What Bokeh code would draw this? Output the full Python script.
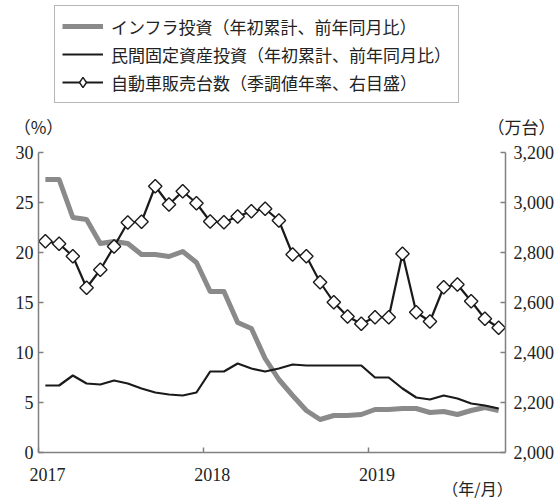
import numpy as np
from bokeh.plotting import figure
from bokeh.models import (LinearAxis, Range1d, FixedTicker, NumeralTickFormatter,
                          Legend, LegendItem, Label)
from bokeh.embed import file_html
from bokeh.resources import INLINE

# ---- data (monthly, 2017/1 - 2019/10) ----
months = [f"{y}/{m}" for y in (2017, 2018, 2019) for m in range(1, 13)][:34]

infra = [27.3, 27.3, 23.5, 23.3, 20.9, 21.1, 20.9, 19.8, 19.8, 19.6, 20.1, 19.0,
         16.1, 16.1, 13.0, 12.4, 9.4, 7.3, 5.7, 4.2, 3.3, 3.7, 3.7, 3.8,
         4.3, 4.3, 4.4, 4.4, 4.0, 4.1, 3.8, 4.2, 4.5, 4.2]

private = [6.7, 6.7, 7.7, 6.9, 6.8, 7.2, 6.9, 6.4, 6.0, 5.8, 5.7, 6.0,
           8.1, 8.1, 8.9, 8.4, 8.1, 8.4, 8.8, 8.7, 8.7, 8.7, 8.7, 8.7,
           7.5, 7.5, 6.4, 5.5, 5.3, 5.7, 5.4, 4.9, 4.7, 4.4]

autos = [2845, 2835, 2785, 2659, 2731, 2824, 2920, 2923, 3065, 2992, 3045, 2997,
         2924, 2921, 2944, 2965, 2975, 2928, 2792, 2785, 2681, 2601, 2544, 2515,
         2541, 2541, 2795, 2561, 2524, 2661, 2672, 2605, 2535, 2499]

year_ticks = [0, 12, 24]
year_labels = ["2017", "2018", "2019"]
left_ticks = [0, 5, 10, 15, 20, 25, 30]
right_ticks = [2000, 2200, 2400, 2600, 2800, 3000, 3200]

series_names = ["インフラ投資（年初累計、前年同月比）",
                "民間固定資産投資（年初累計、前年同月比）",
                "自動車販売台数（季調値年率、右目盛）"]
unit_left = "（%）"
unit_right = "（万台）"
unit_x = "（年/月）"

# month i plotted at the middle of its month slot
x = [i + 0.5 for i in range(len(months))]

SERIF = "Liberation Serif"
CJK = "Noto Sans CJK JP"
AXIS_GRAY = "#808080"
TXT = "#222222"
GRAY_LINE = "#8a8a8a"
BLACK = "#1a1a1a"

W, H = 558, 500
# plot box (pixels) in which the axes are drawn
BX0, BX1, BY_TOP, BY_BOT = 38, 505, 152, 452
N_MONTHS, Y_MAX, R_MIN, R_MAX = 34, 30, 2000, 3200

# ranges chosen so the axes box sits at the pixel box above; the rest of the
# canvas is used for legend and unit labels
px_per_x = (BX1 - BX0) / N_MONTHS
px_per_y = (BY_BOT - BY_TOP) / Y_MAX
px_per_r = (BY_BOT - BY_TOP) / (R_MAX - R_MIN)
x_range = Range1d(-BX0 / px_per_x, N_MONTHS + (W - BX1) / px_per_x)
y_range = Range1d(-(H - BY_BOT) / px_per_y, Y_MAX + BY_TOP / px_per_y)
r_range = Range1d(R_MIN - (H - BY_BOT) / px_per_r, R_MAX + BY_TOP / px_per_r)

p = figure(width=W, height=H, x_range=x_range, y_range=y_range,
           output_backend="svg", toolbar_location=None,
           x_axis_location=None, y_axis_location=None,
           min_border_left=0, min_border_right=0, min_border_top=0,
           min_border_bottom=0)
p.extra_y_ranges = {"right": r_range}
p.grid.visible = False
p.outline_line_color = None


def style_axis(ax):
    ax.axis_line_color = AXIS_GRAY
    ax.axis_line_width = 1.5
    ax.major_tick_line_color = AXIS_GRAY
    ax.major_tick_line_width = 1.5
    ax.minor_tick_line_color = None
    ax.major_tick_in = 5
    ax.major_tick_out = 0
    ax.major_label_text_font = SERIF
    ax.major_label_text_font_size = "18px"
    ax.major_label_text_color = TXT


ax_l = LinearAxis(ticker=FixedTicker(ticks=left_ticks), fixed_location=0,
                  bounds=(0, Y_MAX))
style_axis(ax_l)
ax_l.major_label_standoff = 5
p.add_layout(ax_l, "left")

ax_r = LinearAxis(y_range_name="right", ticker=FixedTicker(ticks=right_ticks),
                  formatter=NumeralTickFormatter(format="0,0"),
                  fixed_location=N_MONTHS, bounds=(R_MIN, R_MAX))
style_axis(ax_r)
ax_r.major_label_standoff = 8
p.add_layout(ax_r, "right")

# bottom axis: labels (major) a little right of year starts, tick marks (minor) at year starts
lab_pos = [t + 0.65 for t in year_ticks]
ax_b = LinearAxis(ticker=FixedTicker(ticks=lab_pos, minor_ticks=year_ticks),
                  major_label_overrides={pos: lab for pos, lab in zip(lab_pos, year_labels)},
                  fixed_location=0, bounds=(0, N_MONTHS))
style_axis(ax_b)
ax_b.major_tick_line_color = None
ax_b.major_tick_in = 0
ax_b.minor_tick_line_color = AXIS_GRAY
ax_b.minor_tick_line_width = 1.5
ax_b.minor_tick_in = 5
ax_b.minor_tick_out = 0
ax_b.major_label_standoff = 15
p.add_layout(ax_b, "below")

r_infra = p.line(x, infra, line_color=GRAY_LINE, line_width=5, line_join="round")
r_priv = p.line(x, private, line_color=BLACK, line_width=2.2, line_join="round")
r_auto = p.line(x, autos, line_color=BLACK, line_width=2.2, y_range_name="right")
p.scatter(x, autos, marker="square", angle=np.pi / 4, size=9.5,
          fill_color="white", line_color=BLACK, line_width=1.4,
          y_range_name="right")
# diamond symbol for the legend only (placed off-canvas)
r_mark = p.scatter([-100], [0], marker="diamond", size=10, fill_color="white",
                   line_color=BLACK, line_width=1.4)

legend = Legend(items=[LegendItem(label=series_names[0], renderers=[r_infra]),
                       LegendItem(label=series_names[1], renderers=[r_priv]),
                       LegendItem(label=series_names[2], renderers=[r_auto, r_mark])],
                location=(54, H - 103))
legend.label_text_font = CJK
legend.label_text_font_size = "17px"
legend.label_text_color = TXT
legend.glyph_width = 41
legend.glyph_height = 26
legend.label_height = 22
legend.label_standoff = 8
legend.spacing = 2
legend.padding = 7
legend.margin = 0
legend.border_line_color = "#6e6e6e"
legend.border_line_width = 1.5
legend.background_fill_color = "white"
legend.background_fill_alpha = 1.0
p.add_layout(legend)

lab_kw = dict(text_font=CJK, text_color=TXT,
              text_baseline="middle", text_align="center",
              x_units="screen", y_units="screen")
p.add_layout(Label(x=38, y=H - 126, text=unit_left, text_font_size="17px", **lab_kw))
p.add_layout(Label(x=521, y=H - 126, text=unit_right, text_font_size="17px", **lab_kw))
p.add_layout(Label(x=477, y=H - 487, text=unit_x, text_font_size="16px", **lab_kw))

open("out.html", "w").write(file_html(p, INLINE))
